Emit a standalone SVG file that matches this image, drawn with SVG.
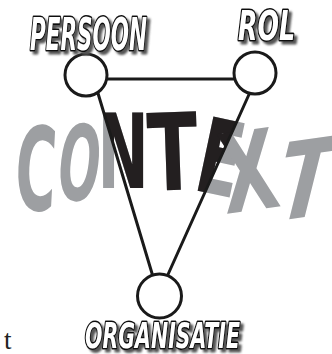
<svg xmlns="http://www.w3.org/2000/svg" width="332" height="354" viewBox="0 0 332 354">
  <defs>
    <style>
      .edge { stroke: #1a1a1a; stroke-width: 3; fill: none; stroke-linecap: round; }
      .node { fill: #ffffff; stroke: #1a1a1a; stroke-width: 3; }
      .lbl { font-family: "DejaVu Sans Condensed", "DejaVu Sans", sans-serif; font-weight: bold; font-style: oblique; fill: #ffffff; stroke: #111111; stroke-width: 3.2; stroke-linejoin: round; paint-order: stroke; }
      .ctx { font-family: "DejaVu Sans Condensed", "DejaVu Sans", sans-serif; font-weight: bold; font-size: 100px; text-anchor: middle; }
      .gray { fill: #9d9fa2; }
      .black { fill: #231f20; }
    </style>
    <filter id="shadow" x="-10%" y="-30%" width="130%" height="170%">
      <feOffset in="SourceAlpha" dx="2.5" dy="2.5" result="off"/>
      <feGaussianBlur in="off" stdDeviation="1.2" result="bl"/>
      <feFlood flood-color="#555555"/>
      <feComposite in2="bl" operator="in" result="sh"/>
      <feMerge>
        <feMergeNode in="sh"/>
        <feMergeNode in="SourceGraphic"/>
      </feMerge>
    </filter>
    <clipPath id="tri">
      <polygon points="97,90 251,90 165.5,280 154,280"/>
    </clipPath>
    <g id="word">
      <text transform="translate(34,210) rotate(3) scale(0.62,1.16)">C</text>
      <text transform="translate(75,200) rotate(7) scale(0.55,1.05)">O</text>
      <text transform="translate(123,188) scale(0.68,1.03)">N</text>
      <text transform="translate(174,190) rotate(-2) scale(0.82,1.07)">T</text>
      <text transform="translate(213,194) rotate(12) scale(0.7,1.04)">E</text>
      <text transform="translate(254,210) rotate(-8) scale(0.82,1.1)">X</text>
      <text transform="translate(297,218) rotate(-8) skewX(-22) scale(0.92,1.05)">T</text>
    </g>
  </defs>

  <g id="context">
    <use href="#word" class="ctx gray"/>
    <g clip-path="url(#tri)">
      <use href="#word" class="ctx black"/>
    </g>
  </g>

  <g id="connectors">
    <line class="edge" x1="100" y1="79" x2="240" y2="79"/>
    <line class="edge" x1="97" y1="90" x2="154" y2="280"/>
    <line class="edge" x1="251" y1="90" x2="165.5" y2="280"/>
  </g>

  <g id="persoon">
    <circle class="node" cx="86" cy="75" r="21"/>
    <text class="lbl" x="30" y="50" font-size="44" textLength="117" lengthAdjust="spacingAndGlyphs" filter="url(#shadow)">PERSOON</text>
  </g>

  <g id="rol">
    <circle class="node" cx="255" cy="73" r="21"/>
    <text class="lbl" x="238" y="40" font-size="40" textLength="57" lengthAdjust="spacingAndGlyphs" filter="url(#shadow)">ROL</text>
  </g>

  <g id="organisatie">
    <circle class="node" cx="159.5" cy="296" r="22"/>
    <text class="lbl" x="85" y="348" font-size="36" textLength="155" lengthAdjust="spacingAndGlyphs" filter="url(#shadow)">ORGANISATIE</text>
  </g>

  <text x="4" y="349" font-family="'Liberation Serif', serif" font-size="27" fill="#222222">t</text>
</svg>
